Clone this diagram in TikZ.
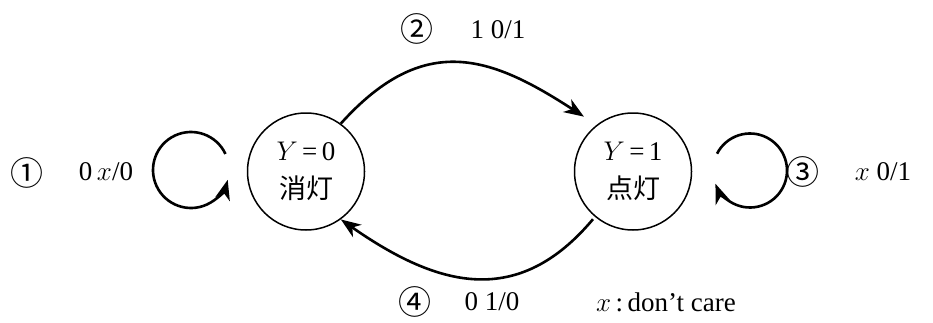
\RequirePackage{fix-cm}
\documentclass[tikz,border=0pt]{standalone}
\usepackage{fontspec}
\setmainfont{Liberation Serif}
\newfontfamily\cjk{Noto Sans CJK JP}
\usetikzlibrary{arrows.meta}
\begin{document}
\begin{tikzpicture}[x=1pt,y=1pt,
  state/.style={circle,draw,line width=1.5pt,minimum size=117pt,inner sep=0pt,align=center,font=\fontsize{27}{38}\selectfont},
  arr/.style={line width=2.6pt,-{Stealth[length=20pt,width=15pt,inset=6pt]}},
  lbl/.style={inner sep=0pt,font=\fontsize{27}{30}\selectfont},
  num/.style={inner sep=0pt,font=\cjk\fontsize{33}{33}\selectfont}]
\useasboundingbox (0,0) rectangle (933,322);
\node[state] (L) at (306,150.5) {$Y$\,=\,0\\{\cjk 消灯}};
\node[state] (R) at (633,150.5) {$Y$\,=\,1\\{\cjk 点灯}};
\draw[arr,shorten >=15pt] (L.54) to[out=48,in=147,looseness=1.25] (R.128);
\draw[arr,shorten <=3pt] (R.-130) to[out=230,in=-35,looseness=1.2] (L.-54);
\coordinate (c1) at (191,152);
\draw[arr] ([shift={(25:38)}]c1) arc[start angle=25,end angle=345,radius=38];
\coordinate (c3) at (750,151.5);
\draw[arr] ([shift={(153:37)}]c3) arc[start angle=153,end angle=-159,radius=37];
\node[num] (n1) at (27,149) {①};
\node[lbl] (t1) at (106,150) {0\,$x$/0};
\node[num] (n2) at (417,293) {②};
\node[lbl] (t2) at (498,292) {1\ 0/1};
\node[num] (n3) at (803,150) {③};
\node[lbl] (t3) at (883,150) {$x$\ 0/1};
\node[num] (n4) at (415,20) {④};
\node[lbl] (t4) at (492,20) {0\ 1/0};
\node[lbl] (t5) at (666,20) {$x$\,:\,don’t care};
\end{tikzpicture}
\end{document}
